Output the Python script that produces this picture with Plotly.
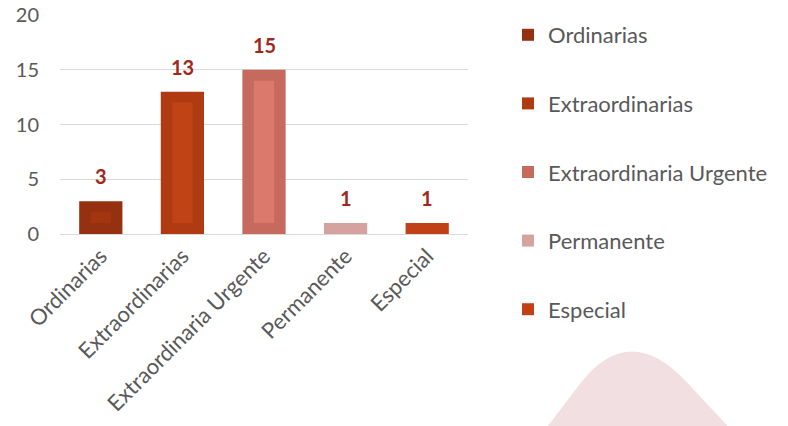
import plotly.graph_objects as go

categories = ["Ordinarias", "Extraordinarias", "Extraordinaria Urgente", "Permanente", "Especial"]
values = [3, 13, 15, 1, 1]
outer_colors = ["#953111", "#B03A12", "#C66A5E", "#D4A39F", "#C04116"]
inner_colors = ["#A3360F", "#C04316", "#DB7A6C", "#D4A39F", "#C04116"]
y_ticks = [0, 5, 10, 15, 20]

W, H = 788, 426
L, T = 60, 15
pw, ph = 408, 218.7
R, B = W - L - pw, H - T - ph

def px(x):
    return (x - L) / pw

def py(y):
    return (T + ph - y) / ph

fig = go.Figure()
for i, (c, v) in enumerate(zip(categories, values)):
    fig.add_trace(go.Bar(
        x=[c], y=[v], name=c, width=0.53,
        marker=dict(color=outer_colors[i], line=dict(width=0)),
        legendgroup=c, hoverinfo="x+y",
    ))

inner_x = [c for c, v in zip(categories, values) if v > 2]
inner_y = [v - 2 for v in values if v > 2]
inner_c = [inner_colors[i] for i, v in enumerate(values) if v > 2]
fig.add_trace(go.Bar(
    x=inner_x, y=inner_y, base=1, width=0.25, showlegend=False,
    marker=dict(color=inner_c, line=dict(width=0)), hoverinfo="skip",
))

for c, v in zip(categories, values):
    fig.add_annotation(x=c, y=v, text=str(v), showarrow=False, yanchor="middle",
                       yshift=25, font=dict(family="Lato", size=20, color="#A0291E", weight="bold"))

# decorative watermark shape (bottom right)
path = (f"M {px(533)},{py(445)} L {px(581)},{py(382)} "
        f"Q {px(630)},{py(320)} {px(687)},{py(382)} L {px(746)},{py(445)} Z")
fig.add_shape(type="path", path=path, xref="paper", yref="paper",
              fillcolor="#F2DFE2", line=dict(width=0), layer="below")

fig.update_layout(
    width=W, height=H,
    margin=dict(l=L, r=R, t=T, b=B, autoexpand=False),
    paper_bgcolor="white", plot_bgcolor="rgba(0,0,0,0)",
    barmode="overlay",
    font=dict(family="Lato", color="#595959"),
    legend=dict(xref="container", yref="container", x=508 / W, y=1 - 14 / H,
                xanchor="left", yanchor="top", font=dict(size=22, color="#595959"),
                tracegroupgap=37, bgcolor="rgba(0,0,0,0)", maxheight=H),
    xaxis=dict(tickangle=-45, tickfont=dict(size=22, color="#595959"),
               showgrid=False, showline=False, ticklabelstandoff=4),
    yaxis=dict(range=[0, 20], tickvals=y_ticks, tickfont=dict(size=20, color="#595959"),
               gridcolor="#D9D9D9", gridwidth=1.3, zeroline=True, zerolinecolor="#D9D9D9",
               zerolinewidth=1.3, showline=False, ticklabelstandoff=20,
               ticklabeloverflow="allow"),
)

fig.write_html("out.html", config={"displayModeBar": False},
               post_script="document.body.style.margin='0';document.body.style.overflow='hidden';")
